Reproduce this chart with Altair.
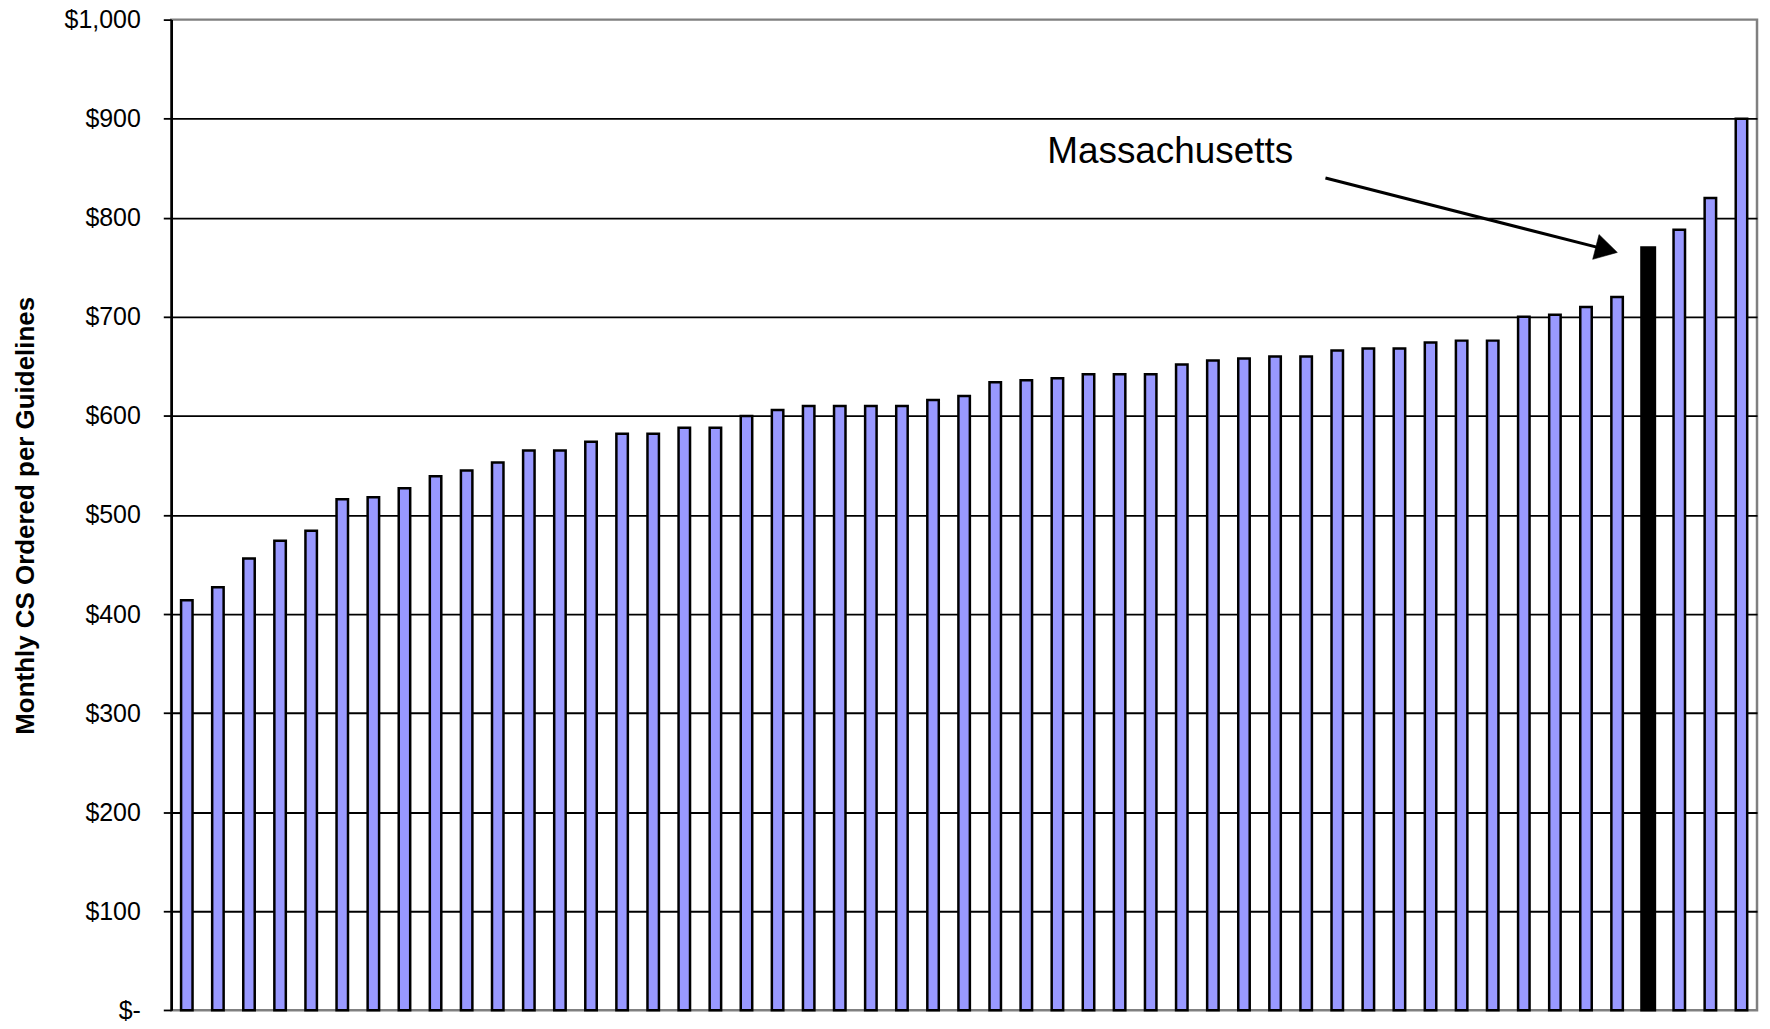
import altair as alt
import pandas as pd

# ---- data ----
ranks = list(range(1, 52))
values = [414, 427, 456, 474, 484, 516, 518, 527, 539, 545,
          553, 565, 565, 574, 582, 582, 588, 588, 600, 606,
          610, 610, 610, 610, 616, 620, 634, 636, 638, 642,
          642, 642, 652, 656, 658, 660, 660, 666, 668, 668,
          674, 676, 676, 700, 702, 710, 720, 770, 788, 820, 900]
ma_rank = 48
ann_label = ["Massachusetts"]
ann_text_value = [855.6]
arrow_start_value = [840.1]
arrow_head_value = [767.8]
y_ticks = list(range(0, 1001, 100))

df = pd.DataFrame({"rank": ranks, "value": values})
ann = pd.DataFrame({"rank": [ma_rank], "label": ann_label, "tv": ann_text_value,
                    "y0": arrow_start_value, "y1": arrow_head_value})

FONT = "Liberation Sans"
x_enc = alt.X("rank:O", axis=None,
              scale=alt.Scale(domain=ranks, paddingInner=0, paddingOuter=0))
y_scale = alt.Scale(domain=[0, 1000], nice=False)

y_axis = alt.Axis(
    values=y_ticks,
    labelExpr="datum.value == 0 ? '$-\u00a0\u00a0\u00a0\u00a0' : '$' + format(datum.value, ',')",
    labelFont=FONT, labelFontSize=25, labelColor="black", labelPadding=23,
    labelFlush=False, labelOverlap=False, labelAlign="right", labelBaseline="middle",
    tickSize=8, tickColor="black", tickWidth=1.8,
    domainColor="black", domainWidth=2.5,
    grid=True, gridColor="black", gridWidth=1.8,
    gridOpacity=alt.condition("datum.value == 0 || datum.value == 1000", alt.value(0), alt.value(1)),
    title="Monthly CS Ordered per Guidelines",
    titleFont=FONT, titleFontSize=26, titleFontWeight="bold", titleColor="black",
    titleX=-138.4, titleY=497, titleAngle=270, titleBaseline="alphabetic", titleAlign="center",
)

bars = alt.Chart(df).mark_bar(stroke="black", strokeWidth=2.5).encode(
    x=x_enc,
    y=alt.Y("value:Q", scale=y_scale, axis=y_axis),
    fill=alt.condition(f"datum.rank == {ma_rank}", alt.value("black"), alt.value("#9999FF")),
    size=alt.condition(f"datum.rank == {ma_rank}", alt.value(13.5), alt.value(11.5)),
)

arrow_line = alt.Chart(ann).mark_rule(
    color="black", strokeWidth=3, xOffset=-323.6, x2Offset=-41.7
).encode(
    x=alt.X("rank:O"), x2=alt.X2("rank"),
    y=alt.Y("y0:Q"), y2=alt.Y2("y1"),
)

arrow_head = alt.Chart(ann).mark_point(
    shape="triangle-right", size=660, filled=True, fill="black", stroke="black",
    strokeWidth=0.5, opacity=1, angle=14.3, xOffset=-41.7
).encode(
    x=alt.X("rank:O"), y=alt.Y("y1:Q"),
)

label = alt.Chart(ann).mark_text(
    align="right", baseline="alphabetic", dx=-355.9, font=FONT, fontSize=37, color="black"
).encode(
    x=alt.X("rank:O"), y=alt.Y("tv:Q"), text="label:N",
)

chart = alt.layer(bars, arrow_line, arrow_head, label).properties(
    width=1590, height=993.4,
    autosize=alt.AutoSizeParams(type="none"),
    padding={"left": 163.7, "top": 10.3, "right": 5, "bottom": 12},
    background="white",
).configure_view(stroke="#808080", strokeWidth=2.5)

chart.save("out.html", embed_options={"renderer": "svg", "actions": False})
